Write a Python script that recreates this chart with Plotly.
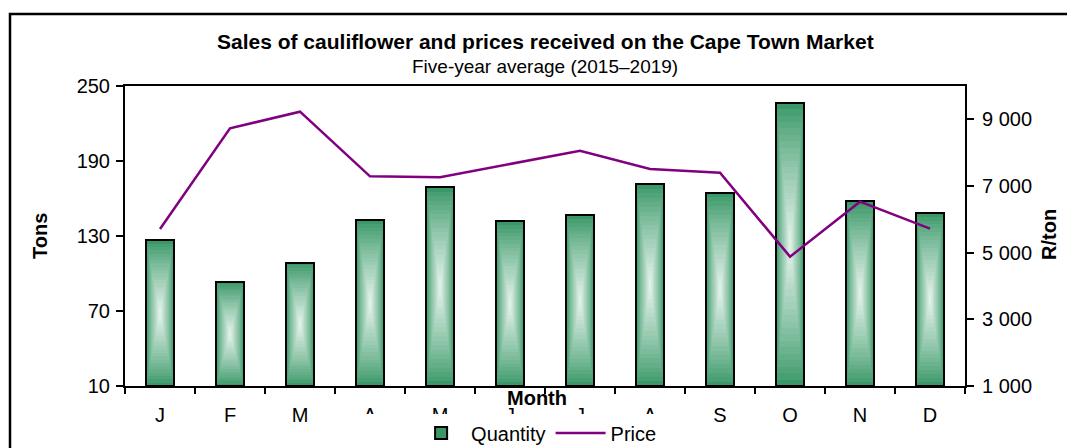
import plotly.graph_objects as go

# ---- data ----
months = ["J", "F", "M", "A", "M", "J", "J", "A", "S", "O", "N", "D"]
quantity_tons = [126.6, 93.2, 108.7, 142.8, 169.0, 141.7, 146.8, 171.6, 164.7, 236.7, 158.0, 148.7]
price_r_per_ton = [5710, 8730, 9230, 7290, 7260, 7650, 8060, 7510, 7400, 4880, 6530, 5720]
left_ticks = [10, 70, 130, 190, 250]
right_ticks = [1000, 3000, 5000, 7000, 9000]
right_ticktext = ["1 000", "3 000", "5 000", "7 000", "9 000"]

FONT = "Liberation Sans, Arial, sans-serif"
W, H = 1067, 448
L, R, T, B = 125, 102, 86, 62
PW, PH = W - L - R, H - T - B

def px_x(px):
    return (px - L) / PW

def px_y(py):
    return (H - B - py) / PH

x = list(range(len(months)))
axis_min = left_ticks[0]
bar_w = 0.4

dark = (58, 152, 104)
light = (232, 245, 238)
N = 22

fig = go.Figure()
for k in range(N):
    t = k / N
    f = t ** 0.85
    col = "rgb(%d,%d,%d)" % tuple(round(d + (l - d) * f) for d, l in zip(dark, light))
    heights = [(q - axis_min) * (1 - t) for q in quantity_tons]
    bases = [axis_min + (q - axis_min) * t / 2 for q in quantity_tons]
    fig.add_trace(go.Bar(
        x=x, y=heights, base=bases, width=bar_w * (1 - t),
        marker=dict(color=col, line=dict(width=2 if k == 0 else 0, color="black")),
        name="Quantity", showlegend=(k == 0), legendgroup="q", hoverinfo="skip",
    ))
# outline on top
fig.add_trace(go.Bar(
    x=x, y=[q - axis_min for q in quantity_tons], base=[axis_min] * len(x), width=bar_w,
    marker=dict(color="rgba(0,0,0,0)", line=dict(width=2, color="black")),
    showlegend=False, legendgroup="q", hoverinfo="skip",
))
fig.add_trace(go.Scatter(
    x=x, y=price_r_per_ton, yaxis="y2", mode="lines", name="Price",
    line=dict(color="#800080", width=2.5),
))

fig.update_layout(
    width=W, height=H, autosize=False,
    margin=dict(l=L, r=R, t=T, b=B, autoexpand=False),
    paper_bgcolor="white", plot_bgcolor="white",
    barmode="overlay", bargap=0,
    font=dict(family=FONT, size=20, color="black"),
    showlegend=True,
    legend=dict(orientation="h", x=0.49, xanchor="center", y=px_y(433), yanchor="middle",
                bgcolor="rgba(0,0,0,0)", font=dict(size=20), itemwidth=50,
                traceorder="normal"),
    xaxis=dict(range=[-0.5, len(months) - 0.5], tickvals=x, ticktext=months,
               ticks="", showline=True, linecolor="black", linewidth=2, mirror=True,
               showgrid=False, zeroline=False, tickfont=dict(size=20),
               ticklabelstandoff=10,
               minor=dict(tickvals=[i - 0.5 for i in range(len(months) + 1)],
                          ticks="outside", ticklen=6, tickwidth=2, tickcolor="black",
                          showgrid=False)),
    yaxis=dict(range=[left_ticks[0], left_ticks[-1]], tickvals=left_ticks,
               ticks="outside", ticklen=7, tickwidth=2, tickcolor="black",
               showline=True, linecolor="black", linewidth=2, showgrid=False,
               zeroline=False, tickfont=dict(size=20), ticklabelstandoff=2),
    yaxis2=dict(range=[1000, 10000], tickvals=right_ticks, ticktext=right_ticktext,
                overlaying="y", side="right",
                ticks="outside", ticklen=7, tickwidth=2, tickcolor="black",
                showline=True, linecolor="black", linewidth=2, showgrid=False,
                zeroline=False, tickfont=dict(size=20), ticklabelstandoff=4),
)

# white area that hides the lower half of some month labels (as in the reference)
fig.add_shape(type="rect", xref="paper", yref="paper", layer="above",
              x0=px_x(345), x1=px_x(690), y0=px_y(448), y1=px_y(414),
              fillcolor="white", line=dict(width=0))
# outer frame
fig.add_shape(type="rect", xref="paper", yref="paper", layer="above",
              x0=px_x(10), x1=px_x(1090), y0=px_y(470), y1=px_y(14),
              fillcolor="rgba(0,0,0,0)", line=dict(width=2.5, color="black"))

fig.add_annotation(text="<b>Sales of cauliflower and prices received on the Cape Town Market</b>",
                   xref="paper", yref="paper", x=0.5, y=px_y(41), xanchor="center", yanchor="middle",
                   showarrow=False, font=dict(size=21))
fig.add_annotation(text="Five-year average (2015–2019)",
                   xref="paper", yref="paper", x=0.5, y=px_y(66), xanchor="center", yanchor="middle",
                   showarrow=False, font=dict(size=19))
fig.add_annotation(text="<b>Tons</b>", textangle=-90,
                   xref="paper", yref="paper", x=px_x(40), y=px_y(236), xanchor="center", yanchor="middle",
                   showarrow=False, font=dict(size=20))
fig.add_annotation(text="<b>R/ton</b>", textangle=-90,
                   xref="paper", yref="paper", x=px_x(1049), y=px_y(235), xanchor="center", yanchor="middle",
                   showarrow=False, font=dict(size=20))
fig.add_annotation(text="<b>Month</b>",
                   xref="paper", yref="paper", x=px_x(537), y=px_y(398), xanchor="center", yanchor="middle",
                   showarrow=False, font=dict(size=20))

fig.write_html("out.html", config={"displayModeBar": False},
               post_script="document.body.style.margin='0';document.body.style.overflow='hidden';")
